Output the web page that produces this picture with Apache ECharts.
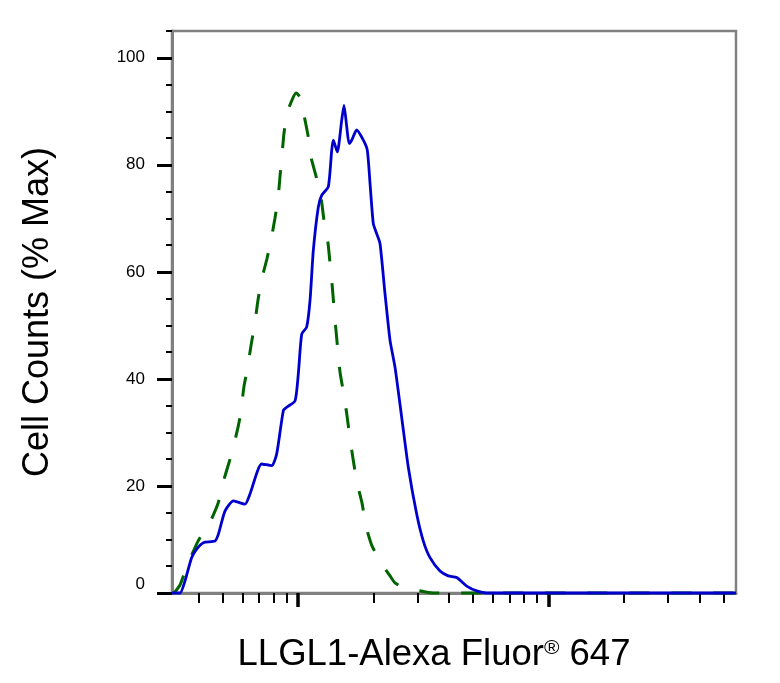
<!DOCTYPE html>
<html>
<head>
<meta charset="utf-8">
<script src="https://cdn.jsdelivr.net/npm/echarts@6.0.0/dist/echarts.min.js"></script>
<style>
  html, body { margin: 0; padding: 0; background: #fff; }
  #main { width: 780px; height: 683px; }
</style>
</head>
<body>
<div id="main"></div>
<script>
// 荧光强度（对数轴）与细胞计数（% Max）
var blueX = [314, 338, 354, 376, 394, 419, 466, 481, 511, 552, 614, 643, 716, 785, 822, 874, 901, 973, 1003, 1035,
  1083, 1117, 1151, 1205, 1243, 1321, 1363, 1383, 1435, 1494, 1526, 1565, 1598, 1638, 1715, 1823, 1891, 1939, 1998,
  2062, 2125, 2225, 2330, 2439, 2594, 2756, 2978, 3164, 3365, 3689, 3981, 4301, 4715, 5169, 5667, 56040];
var blueY = [0, 0, 2.3, 6.6, 8.2, 9.4, 9.7, 11.0, 15.3, 17.2, 16.6, 18.5, 24.1, 23.8, 26.0, 34.1, 34.7, 35.9, 41.0, 48.4,
  49.7, 54.7, 64.0, 72.1, 74.3, 75.9, 82.7, 84.6, 82.4, 88.3, 91.1, 87.1, 84.0, 84.6, 86.5, 84.6, 82.7, 76.5, 69.0,
  67.1, 65.3, 55.9, 47.2, 42.2, 32.8, 23.5, 14.7, 9.7, 6.6, 4.1, 3.2, 2.9, 1.3, 0.4, 0, 0];

var greenX = [320, 338, 357, 378, 399, 422, 446, 480, 507, 536, 566, 587, 609, 626, 649, 673, 692, 718, 752, 780,
  809, 832, 848, 863, 879, 904, 946, 982, 1019, 1047, 1096, 1127, 1180, 1235, 1270, 1318, 1342, 1367, 1392, 1418,
  1445, 1472, 1526, 1569, 1613, 1658, 1720, 1801, 1868, 1974, 2184, 2330, 2439, 2674, 2931, 3459, 56040];
var greenY = [0, 1.5, 4.5, 7.3, 9.7, 11.6, 13.3, 16.8, 21.3, 25.1, 29.4, 32.9, 38.7, 41.5, 46.2, 50.5, 54.7, 58.8, 62.5, 65.9,
  70.0, 73.7, 78.0, 81.8, 85.9, 89.6, 92.1, 93.4, 92.6, 90.2, 85.5, 81.4, 77.9, 73.9, 69.6, 65.3, 61.6, 57.8, 53.3, 49.0,
  44.9, 41.2, 36.9, 33.1, 28.8, 25.1, 20.6, 16.8, 12.5, 8.8, 5.1, 3.2, 1.9, 0.9, 0.6, 0, 0];

var xMajorTicks = [1000, 10000];
var xMinorTicks = [400, 500, 600, 700, 800, 900, 2000, 3000, 4000, 5000, 6000, 7000, 8000, 9000,
  20000, 30000, 40000, 50000];
var yLabels = [0, 20, 40, 60, 80, 100];
var yMinorTicks = [5, 10, 15, 25, 30, 35, 45, 50, 55, 65, 70, 75, 85, 90, 95, 105];

function pairs(xs, ys) {
  var out = [];
  for (var i = 0; i < xs.length; i++) out.push([xs[i], ys[i]]);
  return out;
}

var font = "'Liberation Sans', Arial, Helvetica, sans-serif";
var axisGray = '#808080';

var myChart = echarts.init(document.getElementById('main'));
var option = {
  animation: false,
  grid: {
    left: 172, right: 44, top: 31, bottom: 90,
    show: true,
    borderColor: axisGray,
    borderWidth: 2.5,
    outerBoundsMode: 'none'
  },
  xAxis: [{
    type: 'log',
    logBase: 10,
    min: 314,
    max: 56040,
    name: '{a|LLGL1-Alexa Fluor}{r|®}{a| 647}',
    nameLocation: 'middle',
    nameGap: 43,
    nameTextStyle: {
      padding: [0, 40, 0, 0],
      rich: {
        a: { fontSize: 36.5, fontFamily: font, color: '#000' },
        r: { fontSize: 21, fontFamily: font, color: '#000', verticalAlign: 'top', padding: [2, 0, 0, 0] }
      }
    },
    axisLine: { show: true, lineStyle: { color: axisGray, width: 3 } },
    axisTick: { show: true, customValues: xMajorTicks, length: 14, lineStyle: { color: '#000', width: 3.5 } },
    minorTick: { show: false },
    axisLabel: { show: false },
    splitLine: { show: false }
  }, {
    type: 'log',
    logBase: 10,
    min: 314,
    max: 56040,
    position: 'bottom',
    axisLine: { show: false },
    axisTick: { show: true, customValues: xMinorTicks, length: 10, lineStyle: { color: '#000', width: 2 } },
    minorTick: { show: false },
    axisLabel: { show: false },
    splitLine: { show: false }
  }],
  yAxis: [{
    type: 'value',
    min: 0,
    max: 105,
    interval: 5,
    name: 'Cell Counts (% Max)',
    nameLocation: 'middle',
    nameGap: 116,
    nameTextStyle: { fontSize: 36, fontFamily: font, color: '#000' },
    axisLine: { show: true, lineStyle: { color: axisGray, width: 3 } },
    axisTick: { show: true, customValues: yLabels, length: 15, lineStyle: { color: '#000', width: 3 } },
    axisLabel: {
      customValues: yLabels,
      margin: 27,
      fontSize: 17,
      fontFamily: font,
      color: '#000',
      formatter: function(v) { return v === 0 ? '{z|0}' : String(v); },
      rich: { z: { fontSize: 17, fontFamily: font, color: '#000', padding: [0, 0, 18, 0] } }
    },
    splitLine: { show: false }
  }, {
    type: 'value',
    min: 0,
    max: 105,
    interval: 5,
    position: 'left',
    axisLine: { show: false },
    axisTick: { show: true, customValues: yMinorTicks, length: 6, lineStyle: { color: '#000', width: 2 } },
    axisLabel: { show: false },
    splitLine: { show: false }
  }],
  series: [{
    name: 'isotype',
    type: 'line',
    xAxisIndex: 0,
    yAxisIndex: 0,
    showSymbol: false,
    clip: false,
    smooth: 0.2,
    lineStyle: { color: '#006400', width: 3, type: [20, 22] },
    data: pairs(greenX, greenY)
  }, {
    name: 'LLGL1',
    type: 'line',
    xAxisIndex: 0,
    yAxisIndex: 0,
    showSymbol: false,
    clip: false,
    smooth: 0.2,
    lineStyle: { color: '#0000cd', width: 2.8 },
    data: pairs(blueX, blueY)
  }]
};
myChart.setOption(option);
</script>
</body>
</html>
